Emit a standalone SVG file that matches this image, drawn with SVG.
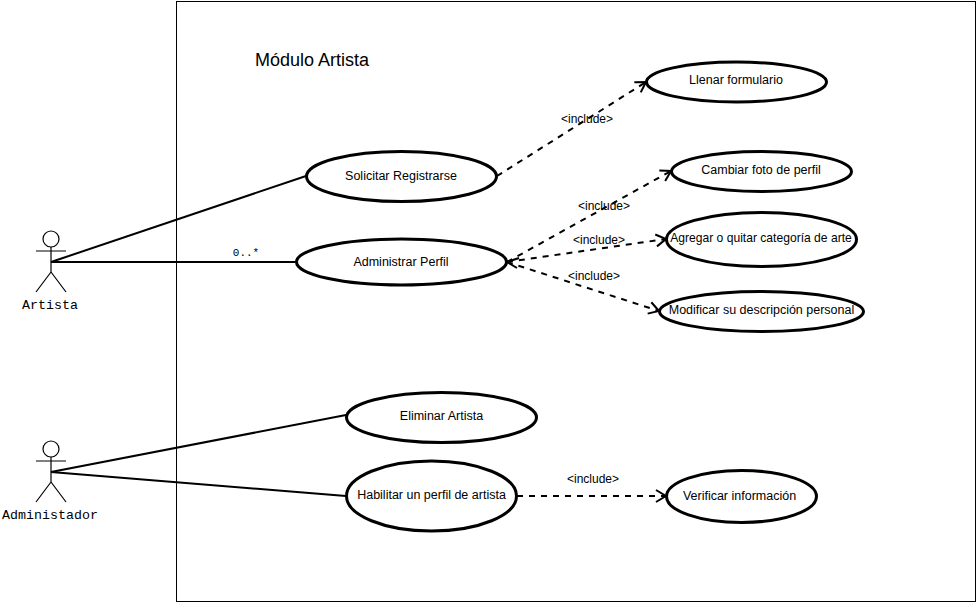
<svg xmlns="http://www.w3.org/2000/svg" width="978" height="603" viewBox="0 0 978 603">
<style>
.uc{fill:#fff;stroke:#000;stroke-width:3}
.t{font-family:"Liberation Sans",Arial,sans-serif;font-size:12.5px;fill:#000;text-anchor:middle}
.i{font-family:"Liberation Sans",Arial,sans-serif;font-size:12px;fill:#000;text-anchor:middle}
.m{font-family:"Liberation Mono","Courier New",monospace;font-size:13.3px;fill:#000;text-anchor:middle}
.a{stroke:#000;stroke-width:1.2;fill:none}
.l{stroke:#000;stroke-width:2;fill:none}
.d{stroke:#000;stroke-width:2;fill:none;stroke-dasharray:6 6;marker-end:url(#o)}
</style>
<defs>
<marker id="o" markerUnits="userSpaceOnUse" markerWidth="14" markerHeight="16" refX="11" refY="7" orient="auto" viewBox="0 0 14 14"><path d="M1 1L11 7L1 13" fill="none" stroke="#000" stroke-width="2"/></marker>
</defs>
<rect id="boundary" x="176.500" y="1.500" width="799" height="600" fill="#fff" stroke="#000" stroke-width="1"/>
<text x="312" y="66" font-family="Liberation Sans,Arial,sans-serif" font-size="18" text-anchor="middle" fill="#000">Módulo Artista</text>
<g id="connectors">
<path class="l" d="M51 262L306 176"/>
<path class="l" d="M51 262H296"/>
<path class="l" d="M51 472L346 415"/>
<path class="l" d="M51 472L346 496"/>
<path class="d" d="M497 176L646 82"/>
<path class="d" d="M507 262L671 171"/>
<path class="d" d="M507 262L666 239"/>
<path class="d" d="M507 262L659 311"/>
<path class="d" d="M517 496H666"/>
<path d="M519 258L507 262L517 268" fill="none" stroke="#000" stroke-width="2"/>
</g>
<g id="labels">
<text class="i" x="587" y="123">&lt;include&gt;</text>
<text class="i" x="604" y="210">&lt;include&gt;</text>
<text class="i" x="599" y="244">&lt;include&gt;</text>
<text class="i" x="594" y="280">&lt;include&gt;</text>
<text class="i" x="593" y="483">&lt;include&gt;</text>
<text x="246" y="256" font-family="Liberation Mono,monospace" font-size="11" text-anchor="middle">0..*</text>
</g>
<g id="artista"><circle class="a" cx="51" cy="239" r="8"/><path class="a" d="M51 247V272M36 251H66M51 272L36 292M51 272L66 292"/><text class="m" x="50" y="309">Artista</text></g>
<g id="administador"><circle class="a" cx="51" cy="449" r="8"/><path class="a" d="M51 457V482M36 461H66M51 482L36 502M51 482L66 502"/><text class="m" x="50" y="519">Administador</text></g>
<g id="uc1"><ellipse class="uc" cx="401.500" cy="176.500" rx="95" ry="25"/><text class="t" x="401" y="180">Solicitar Registrarse</text></g>
<g id="uc2"><ellipse class="uc" cx="401.500" cy="262" rx="105" ry="23"/><text class="t" x="401" y="266">Administrar Perfil</text></g>
<g id="uc3"><ellipse class="uc" cx="736.500" cy="82" rx="90" ry="20"/><text class="t" x="736" y="84">Llenar formulario</text></g>
<g id="uc4"><ellipse class="uc" cx="761.500" cy="171.500" rx="90" ry="20"/><text class="t" x="761" y="174">Cambiar foto de perfil</text></g>
<g id="uc5"><ellipse class="uc" cx="761.500" cy="239.500" rx="95" ry="27"/><text class="t" x="761" y="242" style="font-size:12.1px">Agregar o quitar categoría de arte</text></g>
<g id="uc6"><ellipse class="uc" cx="761.500" cy="311.500" rx="102" ry="20"/><text class="t" x="761.500" y="314">Modificar su descripción personal</text></g>
<g id="uc7"><ellipse class="uc" cx="441.500" cy="417.500" rx="95" ry="25"/><text class="t" x="441.500" y="420">Eliminar Artista</text></g>
<g id="uc8"><ellipse class="uc" cx="431.500" cy="496" rx="85" ry="35"/><text class="t" x="431.500" y="499">Habilitar un perfil de artista</text></g>
<g id="uc9"><ellipse class="uc" cx="741.500" cy="496.500" rx="75" ry="26"/><text class="t" x="739.500" y="500">Verificar información</text></g>
</svg>
